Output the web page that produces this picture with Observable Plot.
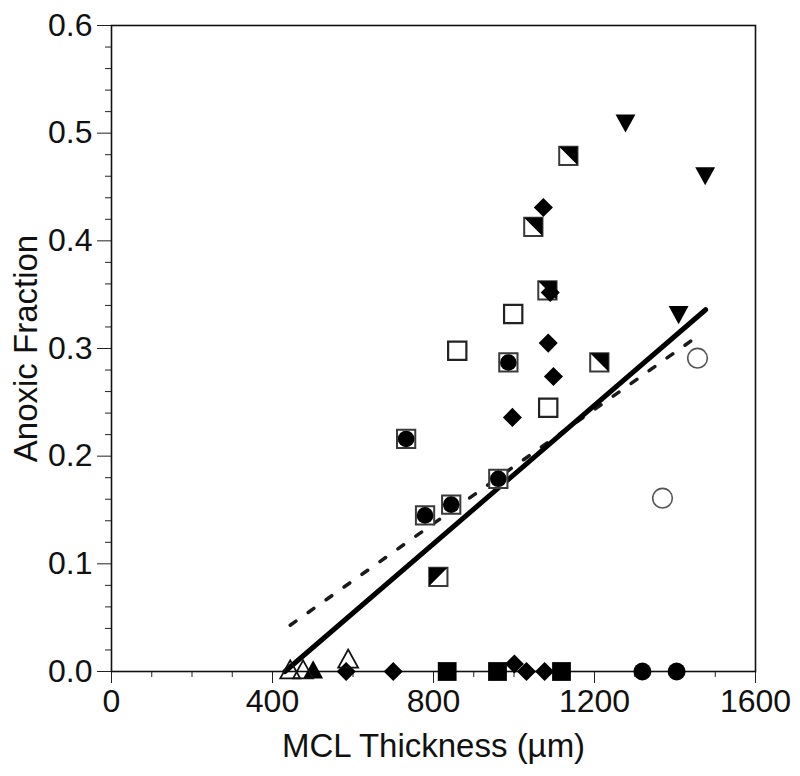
<!DOCTYPE html>
<html>
<head>
<meta charset="utf-8">
<script src="https://cdn.jsdelivr.net/npm/d3@7"></script>
<script src="https://cdn.jsdelivr.net/npm/@observablehq/plot@0.6"></script>
<style>
  html, body { margin: 0; padding: 0; background: #fff; }
  #chart { width: 800px; height: 776px; }
</style>
</head>
<body>
<div id="chart"></div>
<script>
// ---- tick values ----
const xMajor = [0, 400, 800, 1200, 1600];
const xMinor = [100, 200, 300, 500, 600, 700, 900, 1000, 1100, 1300, 1400, 1500];
const yMajor = [0, 0.1, 0.2, 0.3, 0.4, 0.5, 0.6];
const yMinor = [0.02, 0.04, 0.06, 0.08, 0.12, 0.14, 0.16, 0.18, 0.22, 0.24, 0.26, 0.28,
                0.32, 0.34, 0.36, 0.38, 0.42, 0.44, 0.46, 0.48, 0.52, 0.54, 0.56, 0.58];

// ---- data series (MCL thickness µm, anoxic fraction) ----
const triDownX = [1277, 1409, 1475];
const triDownY = [0.509, 0.331, 0.460];

const openCircleX = [1369, 1456];
const openCircleY = [0.161, 0.291];

const sqCircleX = [732, 779, 844, 961, 986];
const sqCircleY = [0.216, 0.145, 0.155, 0.179, 0.287];

const openSquareX = [859, 998, 1085];
const openSquareY = [0.298, 0.332, 0.245];

const halfSqURX = [1048, 1083, 1135, 1212];
const halfSqURY = [0.413, 0.354, 0.479, 0.287];

const halfSqULX = [812];
const halfSqULY = [0.088];

const diamondX = [583, 700, 996, 1001, 1031, 1073, 1076, 1085, 1090, 1098];
const diamondY = [0, 0, 0.236, 0.007, 0, 0.431, 0, 0.305, 0.352, 0.274];

const openTriX = [444, 476, 588];
const openTriY = [0.002, 0.002, 0.012];

const filledTriX = [501];
const filledTriY = [0.002];

const filledSquareX = [834, 959, 1118];
const filledSquareY = [0, 0, 0];

const filledCircleX = [1319, 1404];
const filledCircleY = [0, 0];

// regression lines (end points)
const fitSolidX = [431, 1476];
const fitSolidY = [0, 0.336];
const fitDashedX = [444, 1451];
const fitDashedY = [0.043, 0.310];

const zip = (xs, ys) => xs.map((x, i) => ({x, y: ys[i]}));

// ---- custom symbols (centred on their bounding box) ----
const triDownSym = {
  draw(ctx, size) {
    const s = Math.sqrt(size);
    ctx.moveTo(-0.55 * s, -0.5 * s);
    ctx.lineTo(0.55 * s, -0.5 * s);
    ctx.lineTo(0, 0.5 * s);
    ctx.closePath();
  }
};
const triUpSym = {
  draw(ctx, size) {
    const s = Math.sqrt(size);
    ctx.moveTo(-0.55 * s, 0.5 * s);
    ctx.lineTo(0.55 * s, 0.5 * s);
    ctx.lineTo(0, -0.5 * s);
    ctx.closePath();
  }
};
const halfURSym = {
  draw(ctx, size) {
    const s = Math.sqrt(size) / 2;
    ctx.moveTo(-s, -s); ctx.lineTo(s, -s); ctx.lineTo(s, s); ctx.closePath();
  }
};
const halfULSym = {
  draw(ctx, size) {
    const s = Math.sqrt(size) / 2;
    ctx.moveTo(-s, -s); ctx.lineTo(s, -s); ctx.lineTo(-s, s); ctx.closePath();
  }
};

const SQ_R = 10.3;
const TRI_R = 10.2;

const chart = Plot.plot({
  width: 800,
  height: 776,
  marginLeft: 111,
  marginRight: 45,
  marginTop: 25,
  marginBottom: 105,
  x: {domain: [0, 1600]},
  y: {domain: [0, 0.6]},
  style: {
    fontFamily: "'Liberation Sans', Arial, sans-serif",
    fontSize: "32px",
    color: "#111",
    background: "#fff",
    overflow: "visible"
  },
  marks: [
    Plot.axisY({ticks: yMinor, tickSize: 6, tickFormat: () => "", label: null, stroke: "#222"}),
    Plot.axisY({ticks: yMajor, tickSize: 14, tickPadding: 5, tickFormat: d => d.toFixed(1),
                label: null, fontSize: 32, stroke: "#222", fill: "#111"}),
    Plot.axisX({ticks: xMinor, tickSize: 6, tickFormat: () => "", label: null, stroke: "#222"}),
    Plot.axisX({ticks: xMajor, tickSize: 12, tickPadding: 6, tickFormat: d => String(d),
                label: null, fontSize: 32, stroke: "#222", fill: "#111"}),
    Plot.frame({stroke: "#111", strokeWidth: 1.6}),

    Plot.line(zip(fitDashedX, fitDashedY), {x: "x", y: "y", stroke: "#1a1a1a", strokeWidth: 3.5,
              strokeDasharray: "7,15"}),
    Plot.line(zip(fitSolidX, fitSolidY), {x: "x", y: "y", stroke: "#000", strokeWidth: 5}),

    // square outline + filled circle
    Plot.dot(zip(sqCircleX, sqCircleY), {x: "x", y: "y", symbol: "square", r: SQ_R, fill: "#fff",
             stroke: "#3a3a3a", strokeWidth: 2}),
    Plot.dot(zip(sqCircleX, sqCircleY), {x: "x", y: "y", symbol: "circle", r: 8.3, fill: "#000"}),
    // open squares
    Plot.dot(zip(openSquareX, openSquareY), {x: "x", y: "y", symbol: "square", r: SQ_R, fill: "#fff",
             stroke: "#222", strokeWidth: 2.2}),
    // half filled squares
    Plot.dot(zip(halfSqURX, halfSqURY), {x: "x", y: "y", symbol: "square", r: SQ_R, fill: "#fff",
             stroke: "#3a3a3a", strokeWidth: 2}),
    Plot.dot(zip(halfSqURX, halfSqURY), {x: "x", y: "y", symbol: halfURSym, r: SQ_R, fill: "#000"}),
    Plot.dot(zip(halfSqULX, halfSqULY), {x: "x", y: "y", symbol: "square", r: SQ_R, fill: "#fff",
             stroke: "#3a3a3a", strokeWidth: 2}),
    Plot.dot(zip(halfSqULX, halfSqULY), {x: "x", y: "y", symbol: halfULSym, r: SQ_R, fill: "#000"}),
    // filled diamonds
    Plot.dot(zip(diamondX, diamondY), {x: "x", y: "y", symbol: "diamond2", r: 8.6, fill: "#000"}),
    // open circles
    Plot.dot(zip(openCircleX, openCircleY), {x: "x", y: "y", symbol: "circle", r: 9.8, fill: "none",
             stroke: "#555", strokeWidth: 1.6}),
    // filled down triangles
    Plot.dot(zip(triDownX, triDownY), {x: "x", y: "y", symbol: triDownSym, r: TRI_R, fill: "#000"}),
    // bottom row
    Plot.dot(zip(filledSquareX, filledSquareY), {x: "x", y: "y", symbol: "square", r: 10.6, fill: "#000"}),
    Plot.dot(zip(filledCircleX, filledCircleY), {x: "x", y: "y", symbol: "circle", r: 9, fill: "#000"}),
    Plot.dot(zip(filledTriX, filledTriY), {x: "x", y: "y", symbol: triUpSym, r: TRI_R, fill: "#000"}),
    Plot.dot(zip(openTriX, openTriY), {x: "x", y: "y", symbol: triUpSym, r: TRI_R, fill: "none",
             stroke: "#111", strokeWidth: 1.8}),

    // axis titles
    Plot.text(["Anoxic Fraction"], {frameAnchor: "left", dx: -85, rotate: -90, fontSize: 33,
              textAnchor: "middle", lineAnchor: "middle", fill: "#111"}),
    Plot.text(["MCL Thickness (µm)"], {frameAnchor: "bottom", dy: 75, fontSize: 33,
              textAnchor: "middle", lineAnchor: "middle", fill: "#111"})
  ]
});

document.getElementById("chart").appendChild(chart);
</script>
</body>
</html>
